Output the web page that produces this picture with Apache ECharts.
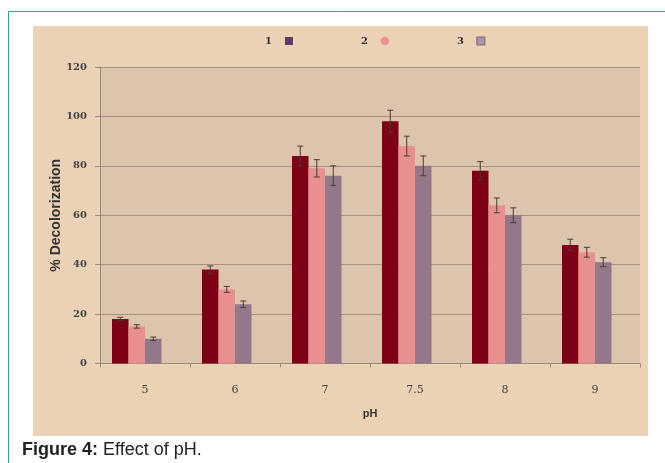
<!DOCTYPE html>
<html><head><meta charset="utf-8">
<script src="https://cdn.jsdelivr.net/npm/echarts@6/dist/echarts.min.js"></script>
<style>html,body{margin:0;padding:0;background:#fff}#c{width:665px;height:463px}</style>
</head><body><div id="c"></div>
<script>
var categories = ['5', '6', '7', '7.5', '8', '9'];
var series1 = [18, 38, 84, 98, 78, 48];
var series2 = [15, 30, 79, 88, 64, 45];
var series3 = [10, 24, 76, 80, 60, 41];
var err1 = [0.7, 1.5, 4, 4.5, 3.7, 2.3];
var err2 = [0.7, 1.2, 3.5, 4, 3, 2];
var err3 = [0.7, 1.3, 4, 4, 3, 1.8];
var yTicks = [0, 20, 40, 60, 80, 100, 120];
var seriesNames = ['1', '2', '3'];

var BW = 16.5;
var barColors = ['#7e0016', '#e8908f', '#93788a'];

function errSeries(vals, errs, idx) {
  return {
    type: 'custom', z: 5,
    data: vals.map(function (v, i) { return [i, v, errs[i]]; }),
    renderItem: function (params, api) {
      var c = api.coord([api.value(0), api.value(1)]);
      var e = api.value(2);
      var top = api.coord([api.value(0), api.value(1) + e]);
      var bot = api.coord([api.value(0), api.value(1) - e]);
      var x = c[0] + (idx - 1.5) * BW;
      var st = { stroke: '#4d3b34', lineWidth: 1 };
      return { type: 'group', children: [
        { type: 'line', shape: { x1: x, y1: top[1], x2: x, y2: bot[1] }, style: st },
        { type: 'line', shape: { x1: x - 3, y1: top[1], x2: x + 3, y2: top[1] }, style: st },
        { type: 'line', shape: { x1: x - 3, y1: bot[1], x2: x + 3, y2: bot[1] }, style: st }
      ]};
    }
  };
}

var chart = echarts.init(document.getElementById('c'), null, { renderer: 'canvas' });
chart.setOption({
  backgroundColor: '#ffffff',
  animation: false,
  graphic: [
    { type: 'rect', shape: { x: 8.5, y: 11.5, width: 700, height: 500 }, style: { fill: '#ffffff', stroke: '#2aa98c', lineWidth: 1 }, z: -10 },
    { type: 'rect', shape: { x: 33, y: 26, width: 615, height: 410 }, style: { fill: '#ebd2b5' }, z: -9 },
    { type: 'text', left: 22, top: 441, style: { text: '{b|Figure 4:} Effect of pH.', font: '18px "Liberation Sans", Arial', fill: '#222', rich: { b: { font: 'bold 18px "Liberation Sans", Arial', fill: '#222' } } } }
  ],
  legend: {
    data: [
      { name: '1', icon: 'rect', itemStyle: { color: '#5b3b6e' } },
      { name: '2', icon: 'circle', itemStyle: { color: '#ec8e94' } },
      { name: '3', icon: 'rect', itemStyle: { color: '#a994a8', borderColor: '#7a6878', borderWidth: 1 } }
    ],
    left: 260, top: 31, itemWidth: 8, itemHeight: 8, itemGap: 68, align: 'right',
    textStyle: { fontFamily: '"DejaVu Serif", serif', fontWeight: 'bold', fontSize: 10, color: '#333', padding: [0, 8, 0, 0] }
  },
  grid: { left: 100, right: 25, top: 67, bottom: 99.5, show: true, backgroundColor: '#dcc4ad', borderWidth: 0 },
  xAxis: {
    type: 'category', data: categories, name: 'pH', nameLocation: 'middle', nameGap: 45, nameMoveOverlap: false,
    nameTextStyle: { fontFamily: '"Liberation Sans", Arial', fontWeight: 'bold', fontSize: 11, color: '#333' },
    axisLine: { lineStyle: { color: '#9a8878' } },
    axisTick: { show: true, length: 4, lineStyle: { color: '#9a8878' } },
    axisLabel: { margin: 21, fontFamily: '"DejaVu Serif", serif', fontSize: 11, color: '#444' }
  },
  yAxis: {
    type: 'value', min: 0, max: 120, interval: 20,
    name: '% Decolorization', nameLocation: 'middle', nameGap: 37, nameMoveOverlap: false,
    nameTextStyle: { fontFamily: '"Liberation Sans", Arial', fontWeight: 'bold', fontSize: 14, color: '#333' },
    axisLine: { show: true, lineStyle: { color: '#9a8878' } },
    axisTick: { show: true, length: 5, lineStyle: { color: '#9a8878' } },
    splitLine: { lineStyle: { color: '#a39282', width: 1 } },
    axisLabel: { margin: 13, fontFamily: '"DejaVu Serif", serif', fontWeight: 'bold', fontSize: 10, color: '#444',
      formatter: function (v) { return yTicks.indexOf(v) >= 0 ? String(v) : ''; } }
  },
  series: [
    { name: seriesNames[0], type: 'bar', data: series1, barWidth: BW, barGap: '0%', itemStyle: { color: barColors[0] } },
    { name: seriesNames[1], type: 'bar', data: series2, barWidth: BW, barGap: '0%', itemStyle: { color: barColors[1] } },
    { name: seriesNames[2], type: 'bar', data: series3, barWidth: BW, barGap: '0%', itemStyle: { color: barColors[2] } },
    { name: 'blank', type: 'bar', data: categories.map(function () { return '-'; }), barWidth: BW, barGap: '0%' },
    errSeries(series1, err1, 0),
    errSeries(series2, err2, 1),
    errSeries(series3, err3, 2)
  ]
});
</script></body></html>
